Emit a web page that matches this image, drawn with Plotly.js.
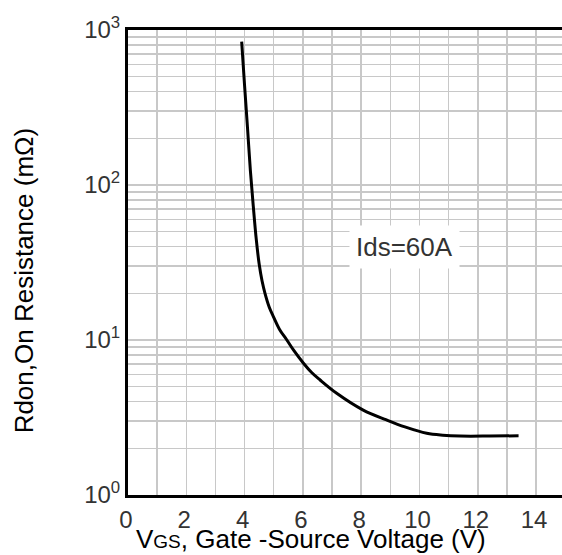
<!DOCTYPE html>
<html>
<head>
<meta charset="utf-8">
<script src="https://cdn.plot.ly/plotly-3.0.1.min.js"></script>
<style>html,body{margin:0;padding:0;background:#fff;}#chart{width:562px;height:555px;}</style>
</head>
<body>
<div id="chart"></div>
<script>
// Gate-source voltage (V)
var vgs = [3.9, 4.0, 4.1, 4.2, 4.3, 4.4, 4.5, 4.6, 4.7, 4.85, 5.0, 5.2, 5.45, 5.7, 6.02, 6.3, 6.59, 7.16, 8.07, 8.87, 9.5, 10.25, 10.8, 11.39, 12.4, 13.4];
// On resistance (mOhm)
var rdson = [841, 437, 234, 123, 72.4, 44.7, 30.9, 24.0, 20.0, 16.2, 14.0, 11.7, 10.0, 8.5, 7.08, 6.17, 5.52, 4.53, 3.53, 3.05, 2.75, 2.50, 2.43, 2.40, 2.40, 2.41];
var yTickVals = [1, 10, 100, 1000];
var yTickText = ['10<sup>0</sup>', '10<sup>1</sup>', '10<sup>2</sup>', '10<sup>3</sup>'];
var xTitle = 'V<span style="font-size:19px">GS</span>, Gate -Source Voltage (V)';
var yTitle = 'Rdon,On Resistance (mΩ)';
var curveLabel = 'Ids=60A';
var labelAt = [9.5, 40];

var gridCol = '#c8c8c8';
var font = 'Liberation Sans, Arial, sans-serif';

var trace = {
  x: vgs, y: rdson, type: 'scatter', mode: 'lines',
  line: {color: '#000', width: 3, shape: 'spline', smoothing: 1},
  showlegend: false, hoverinfo: 'skip'
};

var layout = {
  width: 562, height: 555,
  margin: {l: 128, r: 0, t: 30, b: 60},
  paper_bgcolor: '#fff', plot_bgcolor: '#fff',
  font: {family: font, color: '#222'},
  showlegend: false,
  xaxis: {
    range: [0, 14.89],
    dtick: 2, tick0: 0,
    showgrid: true, gridcolor: gridCol, gridwidth: 1.5,
    minor: {dtick: 1, showgrid: true, gridcolor: gridCol, gridwidth: 1.5},
    showline: true, linecolor: '#000', linewidth: 3, mirror: true,
    zeroline: false,
    ticks: 'outside', ticklen: 1, tickcolor: 'rgba(0,0,0,0)',
    tickfont: {size: 24, color: '#333', family: font},
    ticklabelshift: -2
  },
  yaxis: {
    type: 'log', range: [0, 3],
    tickvals: yTickVals, ticktext: yTickText,
    showgrid: true, gridcolor: gridCol, gridwidth: 1.5,
    minor: {dtick: 'D1', showgrid: true, gridcolor: gridCol, gridwidth: 1.5},
    showline: true, linecolor: '#000', linewidth: 3, mirror: false,
    zeroline: false,
    ticks: '',
    tickfont: {size: 24, color: '#333', family: font}
  },
  annotations: [{
    x: labelAt[0], y: Math.log10(labelAt[1]), xref: 'x', yref: 'y',
    text: curveLabel, showarrow: false,
    font: {size: 26, color: '#333', family: font},
    bgcolor: '#fff', borderpad: 6
  }, {
    x: 0.4217, y: -0.0955, xref: 'paper', yref: 'paper',
    xanchor: 'center', yanchor: 'middle',
    text: xTitle, showarrow: false,
    font: {size: 26, color: '#000', family: font}
  }, {
    x: -0.2396, y: 0.4616, xref: 'paper', yref: 'paper',
    xanchor: 'center', yanchor: 'middle', textangle: -90,
    text: yTitle, showarrow: false,
    font: {size: 26, color: '#000', family: font}
  }]
};

Plotly.newPlot('chart', [trace], layout, {staticPlot: true, displayModeBar: false});
</script>
</body>
</html>
